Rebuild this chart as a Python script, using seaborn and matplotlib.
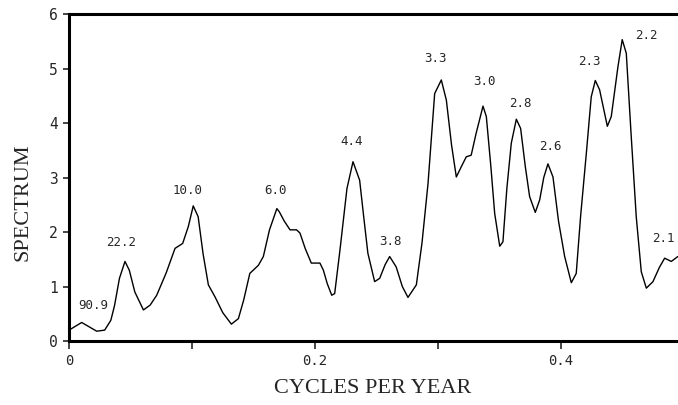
import numpy as np
import pandas as pd
import seaborn as sb
import matplotlib.pyplot as plt

# spectrum (cycles per year, spectrum)
freq = [0.0, 0.0103, 0.0225, 0.029, 0.034, 0.037, 0.041, 0.0455, 0.049, 0.0535,
        0.0605, 0.0660, 0.0713, 0.0790, 0.0862, 0.0924, 0.0970, 0.1010, 0.1050,
        0.1090, 0.1133, 0.1187, 0.1250, 0.1320, 0.1377, 0.1420, 0.1470, 0.1540,
        0.1580, 0.1630, 0.1690, 0.1710, 0.1750, 0.1797, 0.1850, 0.1878, 0.1920,
        0.1970, 0.2040, 0.2068, 0.2100, 0.2136, 0.2160, 0.2203, 0.2260, 0.2309,
        0.2363, 0.2400, 0.2430, 0.2485, 0.2526, 0.2570, 0.2607, 0.2660, 0.2710,
        0.2756, 0.2824, 0.2870, 0.2919, 0.2973, 0.3027, 0.3068, 0.3110, 0.3149,
        0.3190, 0.3230, 0.3270, 0.3310, 0.3366, 0.3393, 0.3430, 0.3461, 0.3502,
        0.3528, 0.3560, 0.3596, 0.3637, 0.3672, 0.3710, 0.3745, 0.3791, 0.3827,
        0.3860, 0.3894, 0.3935, 0.3980, 0.4030, 0.4084, 0.4124, 0.4160, 0.4206,
        0.4246, 0.4279, 0.4314, 0.4377, 0.4409, 0.4463, 0.4498, 0.4531, 0.4570,
        0.4612, 0.4653, 0.4694, 0.4748, 0.4800, 0.4843, 0.4897, 0.4950]
spectrum = [0.20, 0.34, 0.18, 0.20, 0.38, 0.65, 1.15, 1.46, 1.30, 0.90,
            0.57, 0.66, 0.84, 1.25, 1.70, 1.79, 2.10, 2.48, 2.28,
            1.60, 1.03, 0.81, 0.52, 0.31, 0.41, 0.75, 1.24, 1.39,
            1.55, 2.04, 2.43, 2.37, 2.20, 2.04, 2.04, 1.98, 1.70,
            1.43, 1.43, 1.30, 1.05, 0.84, 0.87, 1.67, 2.80, 3.29,
            2.95, 2.20, 1.61, 1.09, 1.15, 1.40, 1.55, 1.36, 1.00,
            0.80, 1.03, 1.80, 2.89, 4.54, 4.79, 4.42, 3.60, 3.01,
            3.20, 3.38, 3.41, 3.81, 4.31, 4.12, 3.20, 2.34, 1.74,
            1.82, 2.80, 3.63, 4.07, 3.90, 3.20, 2.65, 2.36, 2.59,
            3.00, 3.25, 3.01, 2.20, 1.55, 1.07, 1.24, 2.30, 3.44,
            4.48, 4.78, 4.61, 3.94, 4.12, 5.03, 5.53, 5.28, 3.80,
            2.28, 1.27, 0.97, 1.09, 1.35, 1.52, 1.46, 1.55]

# period labels over the peaks
peak_labels = ["90.9", "22.2", "10.0", "6.0", "4.4", "3.8", "3.3",
               "3.0", "2.8", "2.6", "2.3", "2.2", "2.1"]
label_x = [0.0196, 0.042, 0.0967, 0.168, 0.230, 0.261, 0.298,
           0.338, 0.367, 0.391, 0.423, 0.4693, 0.483]
label_y = [0.66, 1.80, 2.77, 2.77, 3.66, 1.82, 5.19,
           4.76, 4.36, 3.57, 5.13, 5.61, 1.88]

data = pd.DataFrame({"freq": freq, "spectrum": spectrum})

sb.set_style("white")
plt.rcParams["font.family"] = ["DejaVu Sans Mono"]

fig = plt.figure(figsize=(6.78, 4.05), dpi=100)
ax = fig.add_axes([0.1018, 0.158, 0.907, 0.8074])

sb.lineplot(data=data, x="freq", y="spectrum", color="black",
            linewidth=1.0, ax=ax, sort=False)

for lab, lx, ly in zip(peak_labels, label_x, label_y):
    ax.text(lx, ly, lab, ha="center", va="center", fontsize=9,
            bbox=dict(facecolor="white", edgecolor="none", pad=0.5))

ax.set_xlim(0, 0.5)
ax.set_ylim(0, 6)
ax.set_xticks([0, 0.1, 0.2, 0.3, 0.4, 0.5])
ax.set_xticklabels(["0", "", "0.2", "", "0.4", ""])
ax.set_yticks(range(7))
ax.tick_params(axis="x", direction="out", length=6, width=1.2,
               labelsize=10, pad=3, bottom=True)
ax.tick_params(axis="y", direction="out", length=4, width=1.2,
               labelsize=10.5, pad=4, left=True)

for side in ["left", "top", "bottom"]:
    ax.spines[side].set_linewidth(2.2)
    ax.spines[side].set_color("black")
ax.spines["right"].set_visible(False)

ax.set_xlabel("CYCLES PER YEAR", family="Liberation Serif", fontsize=16)
ax.set_ylabel("SPECTRUM", family="Liberation Serif", fontsize=16)
ax.xaxis.set_label_coords(0.493, -0.116)
ax.yaxis.set_label_coords(-0.060, 0.425)

fig.savefig("out.png", dpi=100)
